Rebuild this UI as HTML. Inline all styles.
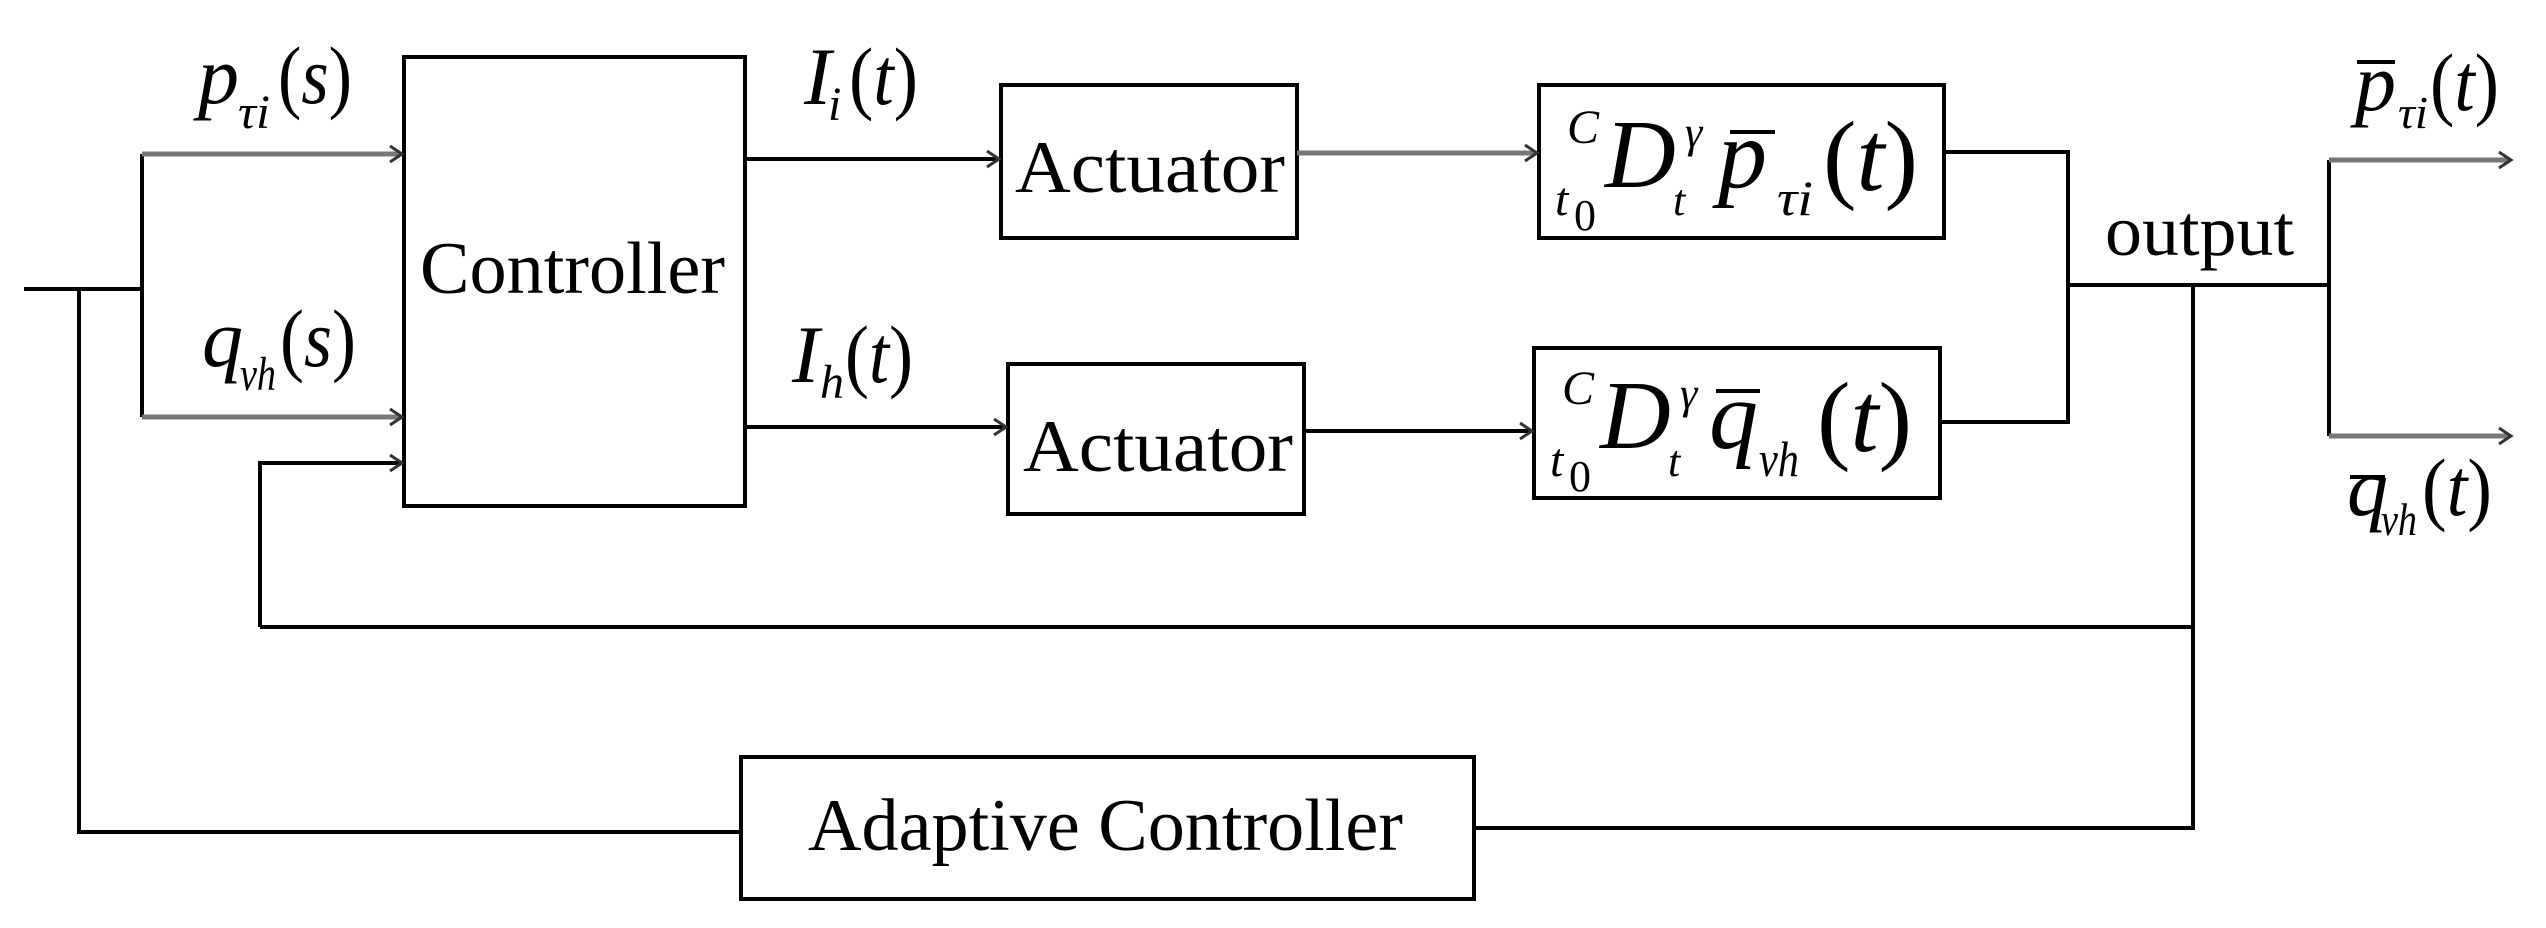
<!DOCTYPE html>
<html><head><meta charset="utf-8"><style>
html,body{margin:0;padding:0;background:#fff;}
svg{display:block;}
text{font-family:"Liberation Serif","DejaVu Serif",serif;fill:#000;}
.i{font-style:italic;}
</style></head><body>
<svg width="2546" height="928" viewBox="0 0 2546 928" xmlns="http://www.w3.org/2000/svg">
<g fill="none" stroke="#000" stroke-width="4">
<!-- boxes -->
<rect x="404" y="57" width="341" height="449"/>
<rect x="1001" y="85" width="296" height="153"/>
<rect x="1008" y="364" width="296" height="150"/>
<rect x="1539" y="85" width="405" height="153"/>
<rect x="1534" y="348" width="406" height="150"/>
<rect x="741" y="757" width="733" height="142"/>
<!-- input lines -->
<polyline points="24,289 142,289"/>
<polyline points="79,289 79,832 741,832"/>
<polyline points="142,154 142,417"/>
<polyline points="260,627 260,463 400,463"/>
<polyline points="260,627 2193,627"/>
<!-- controller outputs -->
<line x1="745" y1="159" x2="997" y2="159"/>
<line x1="745" y1="427" x2="1004" y2="427"/>
<line x1="1304" y1="431" x2="1530" y2="431"/>
<!-- outputs -->
<polyline points="1944,152 2068,152 2068,422 1940,422"/>
<line x1="2068" y1="285" x2="2329" y2="285"/>
<polyline points="2193,285 2193,828 1474,828"/>
<line x1="2329" y1="160" x2="2329" y2="436"/>
</g>
<g fill="none" stroke="#777" stroke-width="5">
<line x1="142" y1="154" x2="400" y2="154"/>
<line x1="142" y1="417" x2="400" y2="417"/>
<line x1="1297" y1="153" x2="1535" y2="153"/>
<line x1="2329" y1="160" x2="2509" y2="160"/>
<line x1="2329" y1="436" x2="2509" y2="436"/>
</g>
<g fill="none" stroke="#333" stroke-width="3">
<polyline points="390,146 402,154 390,162"/>
<polyline points="390,409 402,417 390,425"/>
<polyline points="390,455 402,463 390,471"/>
<polyline points="987,151 999,159 987,167"/>
<polyline points="994,419 1006,427 994,435"/>
<polyline points="1525,145 1537,153 1525,161"/>
<polyline points="1520,423 1532,431 1520,439"/>
<polyline points="2499,152 2511,160 2499,168"/>
<polyline points="2499,428 2511,436 2499,444"/>
</g>
<!-- block labels -->
<text x="420" y="293" font-size="74" textLength="305" lengthAdjust="spacingAndGlyphs">Controller</text>
<text x="1015" y="192" font-size="74" textLength="270" lengthAdjust="spacingAndGlyphs">Actuator</text>
<text x="1023" y="471" font-size="74" textLength="270" lengthAdjust="spacingAndGlyphs">Actuator</text>
<text x="808" y="850" font-size="74" textLength="595" lengthAdjust="spacingAndGlyphs">Adaptive Controller</text>
<text x="2105" y="255" font-size="72" textLength="189" lengthAdjust="spacingAndGlyphs">output</text>
<!-- input labels -->
<text class="i" x="198" y="103" font-size="82">p</text>
<text class="i" x="238" y="128" font-size="48" textLength="32" lengthAdjust="spacingAndGlyphs">τi</text>
<text x="278" y="103" font-size="82" textLength="74" lengthAdjust="spacingAndGlyphs">(<tspan class="i">s</tspan>)</text>
<text class="i" x="202" y="366" font-size="82">q</text>
<text class="i" x="240" y="390" font-size="48" textLength="36" lengthAdjust="spacingAndGlyphs">vh</text>
<text x="280" y="366" font-size="82" textLength="76" lengthAdjust="spacingAndGlyphs">(<tspan class="i">s</tspan>)</text>
<text class="i" x="804" y="104" font-size="82">I</text>
<text class="i" x="828" y="120" font-size="48">i</text>
<text x="849" y="104" font-size="82" textLength="69" lengthAdjust="spacingAndGlyphs">(<tspan class="i">t</tspan>)</text>
<text class="i" x="792" y="382" font-size="82">I</text>
<text class="i" x="820" y="398" font-size="48">h</text>
<text x="845" y="382" font-size="82" textLength="68" lengthAdjust="spacingAndGlyphs">(<tspan class="i">t</tspan>)</text>
<!-- output labels -->
<line x1="2357" y1="62" x2="2395" y2="62" stroke="#000" stroke-width="4"/>
<text class="i" x="2355" y="110" font-size="82">p</text>
<text class="i" x="2398" y="128" font-size="46" textLength="30" lengthAdjust="spacingAndGlyphs">τi</text>
<text x="2430" y="110" font-size="82" textLength="69" lengthAdjust="spacingAndGlyphs">(<tspan class="i">t</tspan>)</text>
<line x1="2350" y1="477" x2="2385" y2="477" stroke="#000" stroke-width="4"/>
<text class="i" x="2347" y="515" font-size="82">q</text>
<text class="i" x="2381" y="535" font-size="46" textLength="36" lengthAdjust="spacingAndGlyphs">vh</text>
<text x="2422" y="515" font-size="82" textLength="70" lengthAdjust="spacingAndGlyphs">(<tspan class="i">t</tspan>)</text>
<!-- box1 math -->
<g>
<text class="i" x="1567" y="143" font-size="48">C</text>
<text class="i" x="1555" y="215" font-size="48">t</text>
<text x="1574" y="230" font-size="44">0</text>
<text class="i" x="1605" y="187" font-size="98">D</text>
<text class="i" x="1685" y="147" font-size="44">γ</text>
<text class="i" x="1673" y="215" font-size="44">t</text>
<line x1="1730" y1="132" x2="1775" y2="132" stroke="#000" stroke-width="4"/>
<text class="i" x="1718" y="187" font-size="98">p</text>
<text class="i" x="1777" y="215" font-size="50" textLength="36" lengthAdjust="spacingAndGlyphs">τi</text>
<text x="1823" y="190" font-size="100" textLength="95" lengthAdjust="spacingAndGlyphs">(<tspan class="i">t</tspan>)</text>
</g>
<g transform="translate(-5,261)">
<text class="i" x="1567" y="143" font-size="48">C</text>
<text class="i" x="1555" y="215" font-size="48">t</text>
<text x="1574" y="230" font-size="44">0</text>
<text class="i" x="1605" y="187" font-size="98">D</text>
<text class="i" x="1685" y="147" font-size="44">γ</text>
<text class="i" x="1673" y="215" font-size="44">t</text>
<line x1="1721" y1="130" x2="1765" y2="130" stroke="#000" stroke-width="4"/>
<text class="i" x="1714" y="187" font-size="98">q</text>
<text class="i" x="1764" y="215" font-size="50" textLength="40" lengthAdjust="spacingAndGlyphs">vh</text>
<text x="1822" y="190" font-size="100" textLength="95" lengthAdjust="spacingAndGlyphs">(<tspan class="i">t</tspan>)</text>
</g>
</svg>
</body></html>
